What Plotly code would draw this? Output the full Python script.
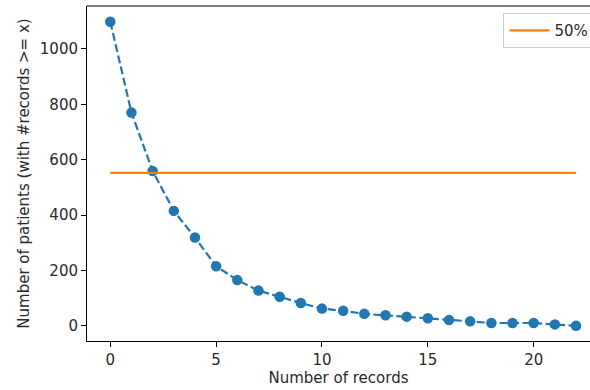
import plotly.graph_objects as go

records = list(range(23))
patients = [1098, 770, 559, 415, 319, 215, 165, 127, 105, 82, 62, 54, 43, 38, 33, 27, 21, 16, 10, 10, 10, 5, 0]
half_value = 552
half_label = "50%"

x_ticks = [0, 5, 10, 15, 20]
y_ticks = [0, 200, 400, 600, 800, 1000]

fig = go.Figure()
fig.add_trace(go.Scatter(
    x=records, y=patients, mode="lines+markers",
    line=dict(color="#1f77b4", width=2.2, dash="8px,3.5px"),
    marker=dict(color="#1f77b4", size=10.5),
    showlegend=False,
))
fig.add_trace(go.Scatter(
    x=[records[0], records[-1]], y=[half_value, half_value], mode="lines",
    line=dict(color="#ff7f0e", width=2.2),
    name=half_label,
))

font = dict(family="DejaVu Sans", size=15, color="#2a2a2a")
fig.update_layout(
    width=590, height=390,
    margin=dict(l=87, r=0, t=6, b=49, autoexpand=False),
    plot_bgcolor="white", paper_bgcolor="white",
    font=font,
    legend=dict(x=0.828, y=0.979, xanchor="left", yanchor="top",
                bordercolor="#cccccc", borderwidth=1, bgcolor="white",
                itemwidth=40, font=font),
    shapes=[dict(type="line", xref="paper", yref="paper", x0=0, x1=1, y0=1, y1=1,
                 line=dict(color="black", width=1))],
)
fig.update_xaxes(
    range=[-1.1, 22.66], tickvals=x_ticks, ticks="outside", ticklen=5, tickcolor="black",
    showline=True, linecolor="black", linewidth=1, showgrid=False, zeroline=False,
    tickfont=font,
    title=dict(text="Number of records", standoff=2, font=font),
)
fig.update_yaxes(
    range=[-55, 1155], tickvals=y_ticks, ticks="outside", ticklen=5, tickcolor="black",
    showline=True, linecolor="black", linewidth=1, showgrid=False, zeroline=False,
    tickfont=font,
    title=dict(text="Number of patients (with #records >= x)", standoff=6, font=font),
)
fig.write_html("out.html")
